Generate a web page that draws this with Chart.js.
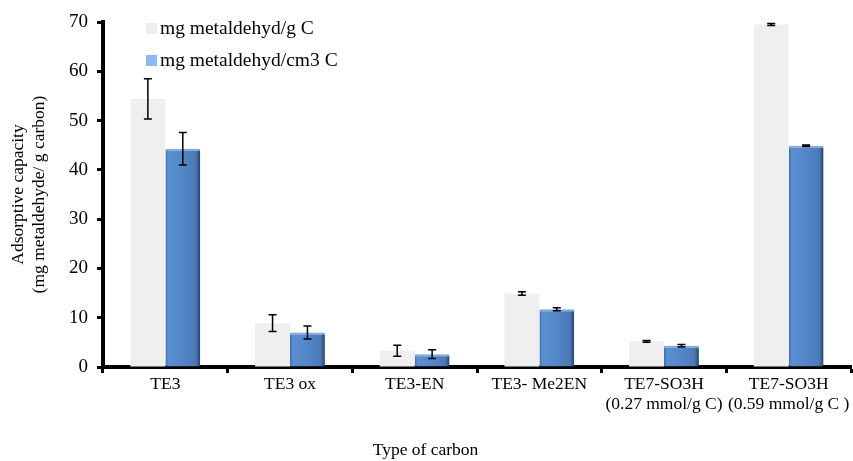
<!DOCTYPE html>
<html>
<head>
<meta charset="utf-8">
<script src="https://cdn.jsdelivr.net/npm/chart.js@4/dist/chart.umd.min.js"></script>
<style>
  html, body { margin: 0; padding: 0; background: #fff; }
  #wrap { width: 853px; height: 461px; }
</style>
</head>
<body>
<div id="wrap"><canvas id="adsorptionChart"></canvas></div>
<script>
const categories = [
  "TE3",
  "TE3 ox",
  "TE3-EN",
  "TE3- Me2EN",
  ["TE7-SO3H", "(0.27 mmol/g C)"],
  ["TE7-SO3H", "(0.59 mmol/g C )"],
];
const perGram = [54.4, 8.9, 3.3, 14.9, 5.2, 69.5];
const perGramErr = [4.1, 1.7, 1.1, 0.35, 0.2, 0.2];
const perCm3 = [44.3, 7.0, 2.6, 11.7, 4.3, 44.9];
const perCm3Err = [3.3, 1.3, 0.9, 0.3, 0.25, 0.15];
const yTicks = [0, 10, 20, 30, 40, 50, 60, 70];

const serif = "'Liberation Serif', 'Times New Roman', serif";
const catPct = 0.56;

document.addEventListener("DOMContentLoaded", function () {
  const ctx = document.getElementById("adsorptionChart").getContext("2d");

  // blue bars get a horizontal bevel-like gradient
  function blueFill(c) {
    const chart = c.chart;
    const x = chart.scales.x;
    if (!x || !chart.chartArea || c.dataIndex === undefined) return "#5186c9";
    const catW = (x.right - x.left) / categories.length;
    const barW = (catW * catPct) / 2;
    const left = x.getPixelForValue(c.dataIndex);
    const right = left + barW;
    const g = chart.ctx.createLinearGradient(left, 0, right, 0);
    g.addColorStop(0, "#3f6aa3");
    g.addColorStop(0.08, "#5a8fd2");
    g.addColorStop(0.5, "#5487c9");
    g.addColorStop(0.88, "#4a79b6");
    g.addColorStop(1, "#23416b");
    return g;
  }

  const errorBars = {
    id: "errorBars",
    afterDatasetsDraw(chart) {
      const y = chart.scales.y;
      const c = chart.ctx;
      const errs = [perGramErr, perCm3Err];
      c.save();
      c.strokeStyle = "#000";
      c.lineWidth = 1.5;
      chart.data.datasets.forEach((ds, di) => {
        const meta = chart.getDatasetMeta(di);
        meta.data.forEach((bar, i) => {
          const v = ds.data[i];
          const e = errs[di][i];
          const yTop = y.getPixelForValue(v + e);
          const yBot = y.getPixelForValue(v - e);
          c.beginPath();
          c.moveTo(bar.x, yTop);
          c.lineTo(bar.x, yBot);
          c.moveTo(bar.x - 4, yTop);
          c.lineTo(bar.x + 4, yTop);
          c.moveTo(bar.x - 4, yBot);
          c.lineTo(bar.x + 4, yBot);
          c.stroke();
        });
      });
      c.restore();
    },
  };

  const innerLegend = {
    id: "innerLegend",
    afterDraw(chart) {
      const c = chart.ctx;
      const items = [
        { text: "mg metaldehyd/g C", color: "#eeeeee", y: 29 },
        { text: "mg metaldehyd/cm3 C", color: "#8cbaf0", y: 61 },
      ];
      c.save();
      c.font = "19.5px " + serif;
      c.textBaseline = "middle";
      items.forEach((it) => {
        c.fillStyle = it.color;
        c.fillRect(146, it.y - 6, 11, 11);
        c.fillStyle = "#000";
        c.fillText(it.text, 160, it.y);
      });
      c.restore();
    },
  };

  new Chart(ctx, {
    type: "bar",
    data: {
      labels: categories,
      datasets: [
        {
          label: "mg metaldehyd/g C",
          data: perGram,
          backgroundColor: "#efefef",
          borderWidth: 0,
        },
        {
          label: "mg metaldehyd/cm3 C",
          data: perCm3,
          backgroundColor: blueFill,
          borderColor: "#7ea9df",
          borderWidth: { top: 2, left: 0, right: 0, bottom: 0 },
          borderSkipped: "bottom",
        },
      ],
    },
    options: {
      responsive: true,
      maintainAspectRatio: false,
      animation: false,
      datasets: {
        bar: { categoryPercentage: catPct, barPercentage: 1.0 },
      },
      layout: { padding: { top: 22, right: 2, left: 0, bottom: 0 } },
      plugins: {
        legend: { display: false },
        tooltip: { enabled: false },
        title: {
          display: true,
          position: "bottom",
          text: "Type of carbon",
          color: "#000",
          font: { family: serif, size: 17.5, weight: "normal", lineHeight: 1.2 },
          padding: { top: 0, bottom: 0 },
        },
      },
      scales: {
        y: {
          min: 0,
          max: 70,
          afterFit(scale) {
            scale.width = 103;
          },
          afterBuildTicks(scale) {
            scale.ticks = yTicks.map((v) => ({ value: v }));
          },
          ticks: {
            color: "#000",
            padding: 9,
            font: { family: serif, size: 19 },
          },
          grid: {
            display: true,
            drawOnChartArea: false,
            drawTicks: true,
            tickLength: 6,
            tickWidth: 3,
            tickColor: "#000",
          },
          border: { display: true, width: 4, color: "#000" },
          title: {
            display: true,
            text: ["Adsorptive capacity", "(mg metaldehyde/ g carbon)"],
            color: "#000",
            font: { family: serif, size: 17.5, lineHeight: 1.25 },
            padding: { top: 7, bottom: 0 },
          },
        },
        x: {
          afterFit(scale) {
            scale.height = 461 - 21 - 367;
          },
          ticks: {
            color: "#000",
            padding: 1,
            maxRotation: 0,
            autoSkip: false,
            font: { family: serif, size: 17.5, lineHeight: 1.15 },
          },
          grid: {
            display: true,
            offset: true,
            drawOnChartArea: false,
            drawTicks: true,
            tickLength: 6,
            tickWidth: 3,
            tickColor: "#000",
          },
          border: { display: true, width: 4, color: "#000" },
        },
      },
    },
    plugins: [errorBars, innerLegend],
  });
});
</script>
</body>
</html>
